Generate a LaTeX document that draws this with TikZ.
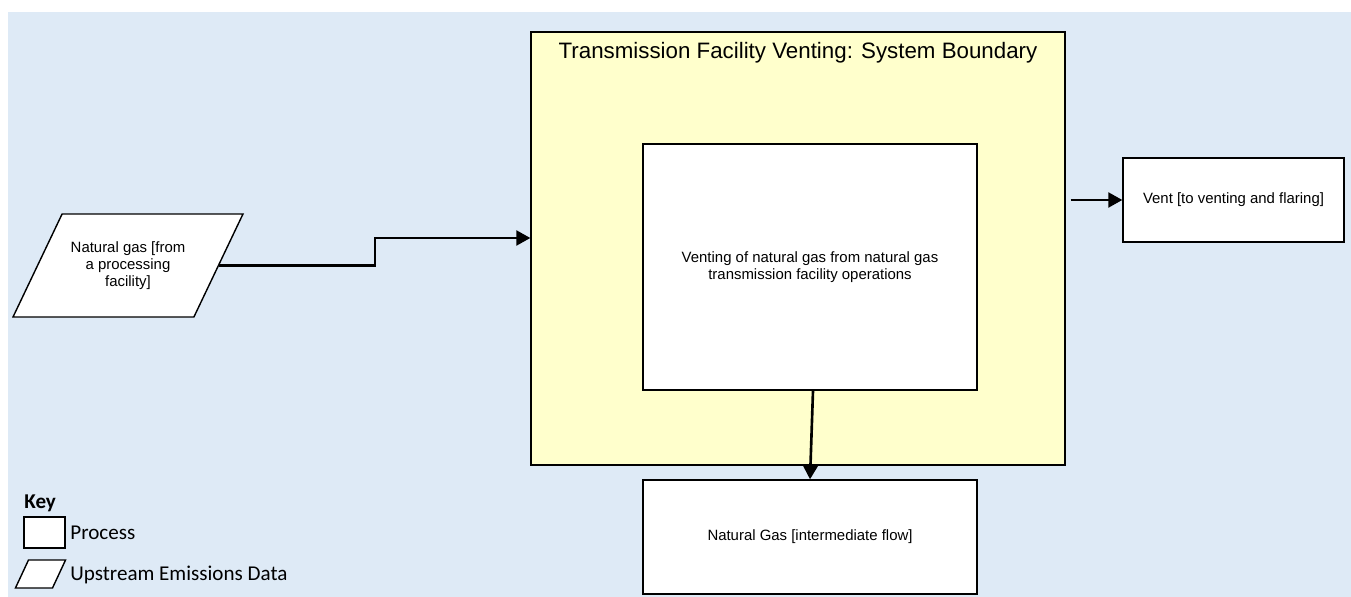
\documentclass[tikz,border=0pt]{standalone}
\usepackage{fontspec}
\setmainfont{Liberation Sans}
\newfontfamily\keyfont{Carlito}
\usetikzlibrary{shapes.geometric}
\usetikzlibrary{positioning}
\usetikzlibrary{arrows.meta}
\definecolor{skyback}{RGB}{222,234,246}
\definecolor{boundfill}{RGB}{255,255,204}
\tikzset{
    process/.style = {rectangle, draw=black, fill=white, line width=0.8pt, align=center, font=\fontsize{8.5}{9.5}\selectfont},
    datain/.style = {trapezium, trapezium left angle=46, trapezium right angle=134, trapezium stretches body=true, draw=black, fill=white, line width=0.8pt, align=center, inner sep=1pt, font=\fontsize{8.5}{9.5}\selectfont},
    bound/.style = {rectangle, draw=black, fill=boundfill, line width=0.8pt},
    flow/.style = {-{Triangle[length=8pt,width=8.5pt]}, line width=1.5pt},
    keytext/.style = {font=\keyfont\fontsize{12}{14}\selectfont, anchor=west, inner sep=0pt}
}

\begin{document}
\begin{tikzpicture}[x=0.02cm,y=-0.02cm]
\useasboundingbox (0,0) rectangle (1351,597);
\fill[skyback] (8,12) rectangle (1351,597);
%
\node[bound, minimum width=10.68cm, minimum height=8.66cm] at (798,248.5) (bnd) {};
\node[font=\fontsize{12.7}{14}\selectfont] at (798,53) (bndtitle) {Transmission Facility Venting: System Boundary};
\node[process, minimum width=6.68cm, minimum height=4.92cm] at (810,267) (vent) {Venting of natural gas from natural gas\\transmission facility operations};
\node[process, minimum width=6.68cm, minimum height=2.28cm] at (810,537) (ngout) {Natural Gas [intermediate flow]};
\node[process, minimum width=4.42cm, minimum height=1.68cm] at (1233.5,200) (flare) {Vent [to venting and flaring]};
\node[datain, minimum width=4.6cm, minimum height=2.06cm] at (128,265.5) (gas) {Natural gas [from\\a processing\\facility]};
%
\coordinate (jog) at (375,238);
\draw[flow] (gas.east) -| (jog) -- (jog -| bnd.west);
\draw[flow] ([xshift=0.06cm]vent.south) -- (ngout.north);
\draw[flow] ([xshift=0.1cm]bnd.east |- flare.west) -- (flare.west);
%
% key
\node[keytext, font=\keyfont\bfseries\fontsize{12}{14}\selectfont] at (24,503) (keyhead) {Key};
\node[draw=black, fill=white, line width=0.8pt, minimum width=0.82cm, minimum height=0.62cm] at (44.5,532.5) (keyproc) {};
\node[keytext] at (70,533) (keyproclbl) {Process};
\node[datain, trapezium left angle=65, trapezium right angle=115, inner xsep=0.24cm, inner ysep=0.28cm] at (40.5,574) (keydata) {};
\node[keytext] at (70,575) (keydatalbl) {Upstream Emissions Data};

\end{tikzpicture}
\end{document}
